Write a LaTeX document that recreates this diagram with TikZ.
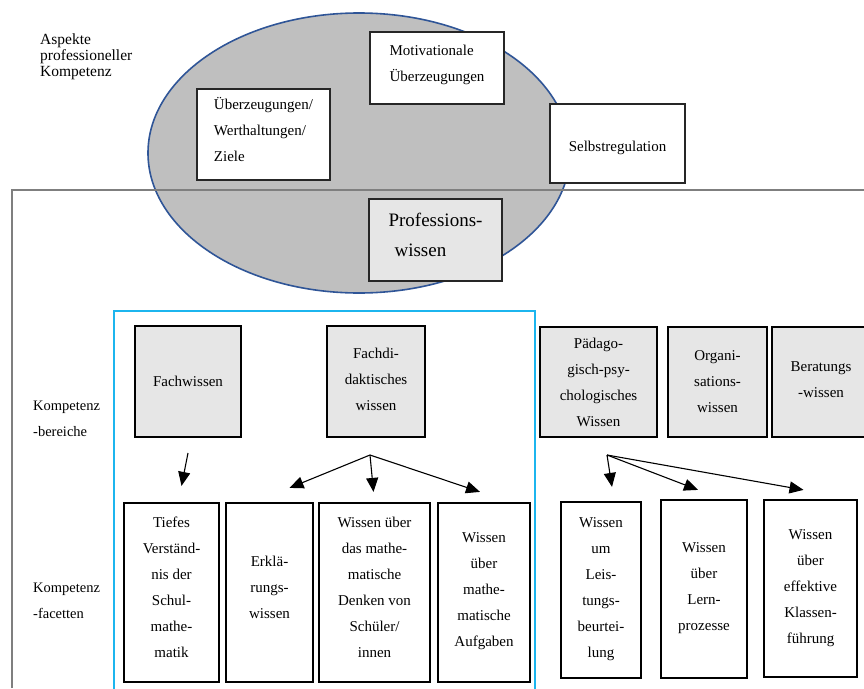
\documentclass[tikz,border=0pt]{standalone}
\usepackage{fontspec}
\setmainfont{Liberation Serif}
\usetikzlibrary{arrows.meta}
\definecolor{ellgray}{HTML}{BFBFBF}
\definecolor{ellblue}{HTML}{2F5597}
\definecolor{boxgray}{HTML}{E6E6E6}
\definecolor{framegray}{HTML}{7F7F7F}
\definecolor{framecyan}{HTML}{1CB5EE}
\tikzset {>={Triangle[length=14pt,width=12pt]},
  aspekt/.style={draw=black!85,line width=1.2pt,fill=white,align=left,
    inner sep=0pt,font=\fontsize{15}{26}\selectfont},
  bereich/.style={draw,line width=2.2pt,fill=boxgray,align=center,
    inner sep=0pt,font=\fontsize{15}{26}\selectfont},
  facette/.style={draw,line width=2.2pt,fill=white,align=center,
    inner sep=0pt,font=\fontsize{15}{26}\selectfont},
  seite/.style={align=left,inner sep=0pt,anchor=west,
    font=\fontsize{14.5}{26}\selectfont},
  pfeil/.style={->,line width=1.1pt}}

\begin{document}
\begin{tikzpicture}[x=1pt,y=-1pt]
\useasboundingbox (0,0) rectangle (864,688);
% aspects of professional competence
\node[seite,font=\fontsize{15.5}{16}\selectfont] (aspekte) at (40,57)
  {Aspekte\\professioneller\\Kompetenz};
\draw[fill=ellgray,draw=ellblue,line width=1.6pt] (359,153) ellipse[x radius=211,y radius=140];
\node[aspekt,text depth=10pt,minimum width=133pt,minimum height=91pt] (ueberz) at (263.5,134.5)
  {Überzeugungen/\\Werthaltungen/\\Ziele};
\node[aspekt,text depth=10pt,minimum width=134pt,minimum height=72pt] (motiv) at (437,68)
  {Motivationale\\Überzeugungen};
\node[aspekt,align=center,text height=16pt,text depth=0pt,minimum width=135pt,
  minimum height=79pt] (selbst) at (617.5,143.5) {Selbstregulation};
% frames
\draw[framegray,line width=2pt] (12,688) -- (12,190) -- (864,190);
\node[aspekt,fill=boxgray,text depth=10pt,minimum width=133pt,minimum height=82pt,
  font=\fontsize{19}{30}\selectfont] (profwissen) at (435.5,240)
  {Professions-\\\hspace{6pt}wissen};
\draw[framecyan,line width=2.4pt] (114,690) -- (114,311) -- (535,311) -- (535,690);
% competence areas
\node[seite] (bereiche) at (33,419) {Kompetenz\\-bereiche};
\node[bereich,minimum width=106pt,minimum height=111pt] (fach) at (188,381.5)
  {Fachwissen};
\node[bereich,text depth=5pt,minimum width=98pt,minimum height=111pt] (fachdid) at (376,381.5)
  {Fachdi-\\daktisches\\wissen};
\node[bereich,minimum width=117pt,minimum height=110pt] (paed) at (598.5,382)
  {Pädago-\\gisch-psy-\\chologisches\\Wissen};
\node[bereich,minimum width=99pt,minimum height=110pt] (orga) at (717.5,382)
  {Organi-\\sations-\\wissen};
\node[bereich,text depth=4pt,minimum width=98pt,minimum height=110pt] (berat) at (821,382)
  {Beratungs\\-wissen};
% competence facets
\node[seite] (facetten) at (33,601) {Kompetenz\\-facetten};
\node[facette,text depth=10pt,minimum width=95pt,minimum height=179pt] (tiefes) at (171.5,592.5)
  {Tiefes\\Verständ-\\nis der\\Schul-\\mathe-\\matik};
\node[facette,text depth=11pt,minimum width=87pt,minimum height=179pt] (erkl) at (269.5,592.5)
  {Erklä-\\rungs-\\wissen};
\node[facette,text depth=10pt,minimum width=111pt,minimum height=179pt] (denken) at (374.5,592.5)
  {Wissen über\\das mathe-\\matische\\Denken von\\Schüler/\\innen};
\node[facette,text depth=5pt,minimum width=92pt,minimum height=179pt] (aufg) at (484,592.5)
  {Wissen\\über\\mathe-\\matische\\Aufgaben};
\node[facette,text depth=4pt,minimum width=80pt,minimum height=176pt] (leist) at (601,590)
  {Wissen\\um\\Leis-\\tungs-\\beurtei-\\lung};
\node[facette,text depth=4pt,minimum width=86pt,minimum height=178pt] (lern) at (704,589)
  {Wissen\\über\\Lern-\\prozesse};
\node[facette,text depth=4pt,minimum width=93pt,minimum height=177pt] (klasse) at (810.5,588.5)
  {Wissen\\über\\effektive\\Klassen-\\führung};
% arrows
\coordinate (fach-out) at (188,453);
\coordinate (fd-out) at (370,455);
\coordinate (paed-out) at (607,455);
\draw[pfeil] (fach-out) -- ([shift={(10,-16)}]tiefes.north);
\draw[pfeil] (fd-out) -- ([shift={(20,-14)}]erkl.north);
\draw[pfeil] (fd-out) -- ([shift={(-1,-10)}]denken.north);
\draw[pfeil] (fd-out) -- ([shift={(-4,-10)}]aufg.north);
\draw[pfeil] (paed-out) -- ([shift={(11,-14)}]leist.north);
\draw[pfeil] (paed-out) -- ([shift={(-6,-9)}]lern.north);
\draw[pfeil] (paed-out) -- ([shift={(-7,-9)}]klasse.north);
\end{tikzpicture}
\end{document}
